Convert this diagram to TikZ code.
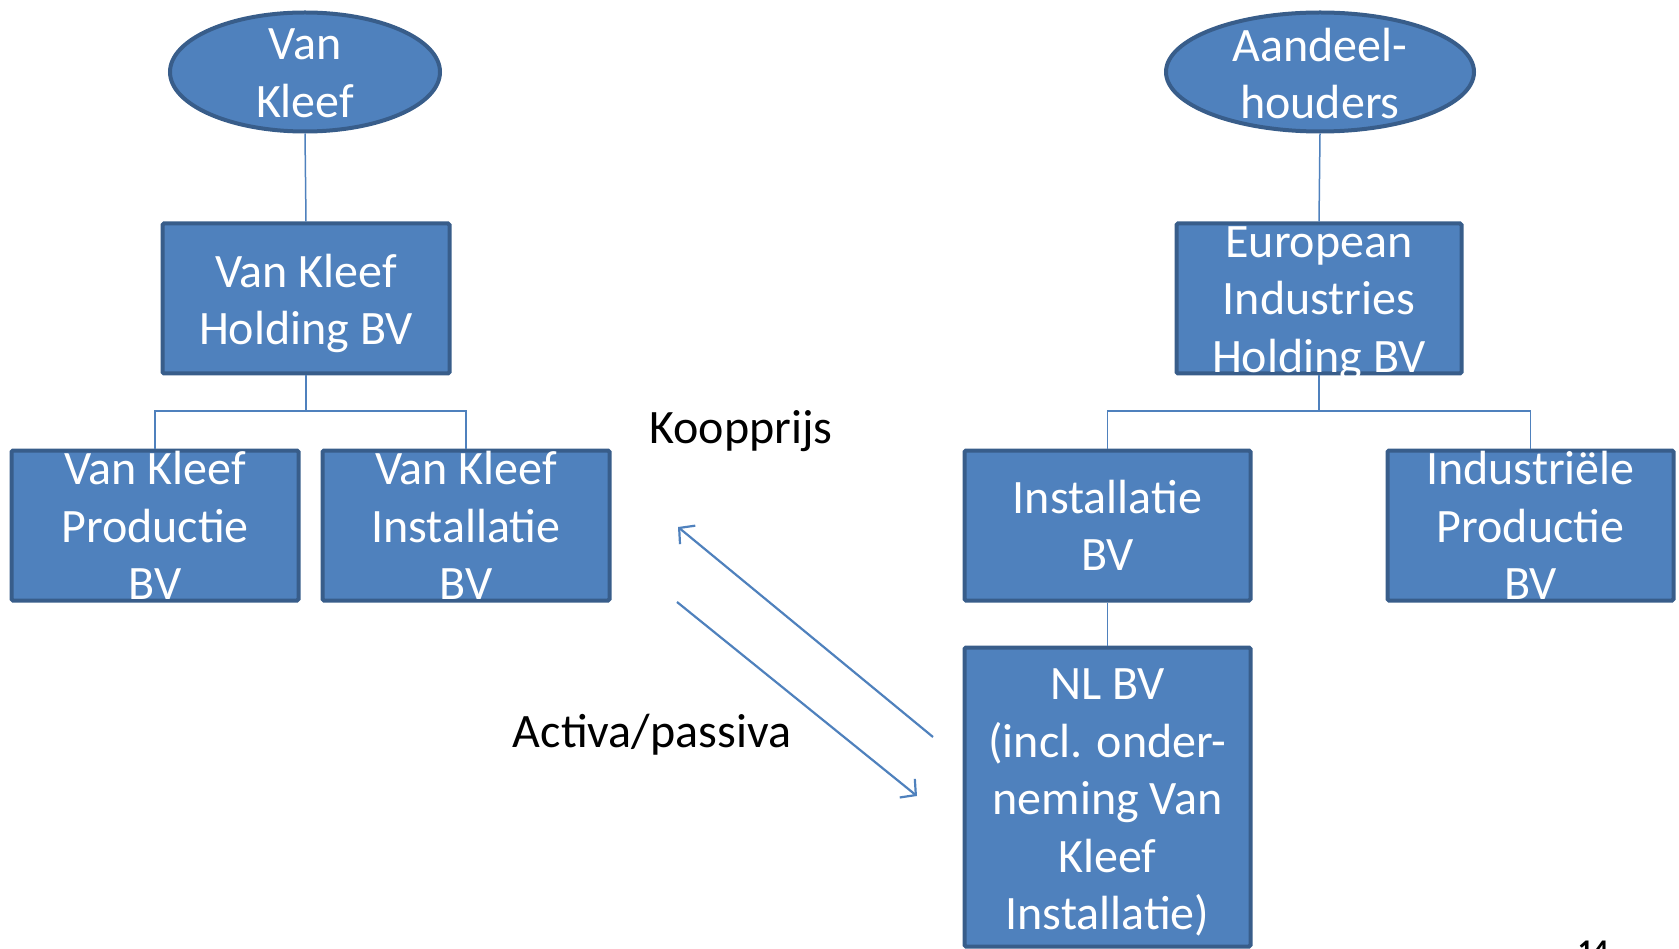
\documentclass[tikz,border=0pt]{standalone}
\usepackage{fontspec}
\setmainfont{Carlito}
\usetikzlibrary{shapes.geometric,arrows.meta}
\definecolor{boxfill}{HTML}{4F81BD}
\definecolor{boxline}{HTML}{385D8A}
\begin{document}
\begin{tikzpicture}[x=1pt,y=-1pt,
  ent/.style={rectangle, draw=boxline, fill=boxfill, line width=4pt, rounded corners=1.5pt, inner sep=0pt},
  owner/.style={ellipse, draw=boxline, fill=boxfill, line width=4pt, inner sep=0pt},
  txt/.style={text=white, align=center, font=\fontsize{48}{57.5}\selectfont, inner sep=0pt},
  link/.style={draw=boxfill, line width=1.5pt},
  flow/.style={draw=boxfill, line width=2.2pt, -{Straight Barb[length=11pt,width=24pt,line width=2.2pt]}},
  lab/.style={font=\fontsize{48}{57.5}\selectfont, text=black, inner sep=0pt}]
\useasboundingbox (0,0) rectangle (1679,949);
\begin{scope}
\clip (0,0) rectangle (1679,949);
% owners
\node[owner, minimum width=270pt, minimum height=119pt] (vk) at (305,72) {};
\node[owner, minimum width=308pt, minimum height=119pt] (ah) at (1320,72) {};
% boxes
\node[ent, minimum width=287pt, minimum height=150pt] (vkh) at (306,298.5) {};
\node[ent, minimum width=285pt, minimum height=150pt] (eih) at (1319,298.5) {};
\node[ent, minimum width=287pt, minimum height=150pt] (vkp) at (155,525.5) {};
\node[ent, minimum width=287pt, minimum height=150pt] (vki) at (466,525.5) {};
\node[ent, minimum width=286pt, minimum height=150pt] (ibv) at (1107.5,525.5) {};
\node[ent, minimum width=286pt, minimum height=150pt] (ipb) at (1530.5,525.5) {};
\node[ent, minimum width=286pt, minimum height=299pt] (nl) at (1107.5,797) {};
% texts
\node[txt, yshift=-1.5pt] (vkt) at (vk) {Van\\Kleef};
\node[txt, yshift=-1.5pt] (aht) at (ah) {Aandeel-\\houders};
\node[txt, yshift=-5pt] (vkht) at (vkh) {Van Kleef\\Holding BV};
\node[txt, yshift=-5pt] (eiht) at (eih) {European\\Industries\\Holding BV};
\node[txt] (vkpt) at (vkp) {Van Kleef\\Productie\\BV};
\node[txt] (vkit) at (vki) {Van Kleef\\Installatie\\BV};
\node[txt] (ibvt) at (ibv) {Installatie\\BV};
\node[txt] (ipbt) at (ipb) {Industriële\\Productie\\BV};
\node[txt, yshift=-5.5pt] (nlt) at (nl) {NL BV\\(incl. onder-\\neming Van\\Kleef\\Installatie)};
% connectors
\draw[link] (vk.south) -- (vkh.north);
\draw[link] (ah.south) -- (eih.north);
\coordinate (jl) at (306,411);
\coordinate (jr) at (1319,411);
\draw[link] (vkh.south) -- (jl);
\draw[link] (vkp.north) |- (jl) -| (vki.north);
\draw[link] (eih.south) -- (jr);
\draw[link] (ibv.north) |- (jr) -| (ipb.north);
\draw[link] (ibv.south) -- (nl.north);
% flows
\coordinate (a1s) at (933,737);
\coordinate (a1e) at (678,527);
\coordinate (a2s) at (677,602);
\coordinate (a2e) at (917,796);
\draw[flow] (a1s) -- (a1e);
\draw[flow] (a2s) -- (a2e);
\node[lab] (koop) at (741,431) {Koopprijs};
\node[lab] (act) at (652,735) {Activa/passiva};
\node[font=\bfseries\fontsize{30}{36}\selectfont, inner sep=0pt, anchor=north] (pg) at (1593,941) {14};
\end{scope}
\end{tikzpicture}
\end{document}
